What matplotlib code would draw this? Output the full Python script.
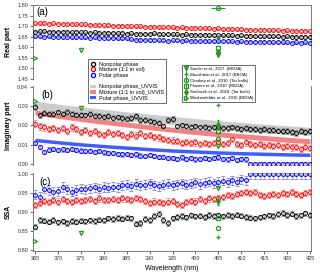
import numpy as np
import matplotlib
matplotlib.use('Agg')
import matplotlib.pyplot as plt
from matplotlib.lines import Line2D
from matplotlib.patches import Patch

plt.rcParams['font.family'] = ['Liberation Sans', 'DejaVu Sans']

wl = list(range(365, 426))

# real part
n_nonpolar = [1.674, 1.676, 1.675, 1.674, 1.673, 1.674, 1.672, 1.673, 1.671, 1.672, 1.670,
              1.671, 1.669, 1.670, 1.668, 1.669, 1.667, 1.668, 1.666, 1.667, 1.665,
              1.666, 1.664, 1.665, 1.663, 1.664, 1.666, 1.663, 1.662, 1.663, 1.661,
              1.662, 1.660, 1.661, 1.659, 1.660, 1.658, 1.659, 1.657, 1.658, 1.656,
              1.657, 1.656, 1.657, 1.655, 1.656, 1.654, 1.655, 1.653, 1.654, 1.652,
              1.653, 1.652, 1.653, 1.651, 1.652, 1.650, 1.651, 1.649, 1.650, 1.649]
n_mixture = [1.714, 1.713, 1.715, 1.712, 1.713, 1.711, 1.712, 1.710, 1.711, 1.709, 1.708,
             1.708, 1.706, 1.707, 1.705, 1.704, 1.705, 1.703, 1.702, 1.703, 1.701,
             1.700, 1.699, 1.700, 1.698, 1.697, 1.698, 1.696, 1.695, 1.697, 1.694,
             1.693, 1.694, 1.692, 1.691, 1.692, 1.690, 1.689, 1.690, 1.688, 1.689,
             1.687, 1.688, 1.686, 1.685, 1.686, 1.684, 1.683, 1.684, 1.682, 1.683,
             1.681, 1.682, 1.680, 1.679, 1.680, 1.678, 1.679, 1.677, 1.678, 1.676]
n_polar = [1.652, 1.653, 1.651, 1.652, 1.650, 1.651, 1.649, 1.650, 1.648, 1.649, 1.647,
           1.648, 1.646, 1.647, 1.645, 1.646, 1.644, 1.645, 1.643, 1.644, 1.642,
           1.638, 1.636, 1.635, 1.636, 1.634, 1.635, 1.633, 1.634, 1.632, 1.633,
           1.634, 1.632, 1.633, 1.631, 1.632, 1.630, 1.631, 1.629, 1.630, 1.629,
           1.630, 1.628, 1.629, 1.627, 1.628, 1.626, 1.627, 1.625, 1.626, 1.625,
           1.626, 1.624, 1.625, 1.623, 1.624, 1.622, 1.623, 1.622, 1.623, 1.621]

# imaginary part
k_nonpolar = [0.0295, 0.0255, 0.0265, 0.0262, 0.0258, 0.0268, 0.0262, 0.0270, 0.0262, 0.0257, 0.0255,
              0.0252, 0.0258, 0.0248, 0.0250, 0.0245, 0.0248, 0.0240, 0.0242, 0.0238, 0.0236,
              0.0240, 0.0250, 0.0230, 0.0228, 0.0225, 0.0218, 0.0215, 0.0195, 0.0230, 0.0235,
              0.0195, 0.0200, 0.0196, 0.0192, 0.0195, 0.0190, 0.0193, 0.0188, 0.0190, 0.0192,
              0.0188, 0.0185, 0.0190, 0.0186, 0.0182, 0.0185, 0.0180, 0.0183, 0.0178, 0.0182,
              0.0176, 0.0178, 0.0174, 0.0172, 0.0170, 0.0168, 0.0162, 0.0170, 0.0165, 0.0172]
k_mixture = [0.0210, 0.0195, 0.0190, 0.0182, 0.0188, 0.0178, 0.0185, 0.0170, 0.0190, 0.0180, 0.0168,
             0.0178, 0.0160, 0.0172, 0.0158, 0.0150, 0.0165, 0.0155, 0.0160, 0.0150, 0.0140,
             0.0155, 0.0148, 0.0160, 0.0145, 0.0150, 0.0142, 0.0138, 0.0130, 0.0125, 0.0122,
             0.0118, 0.0110, 0.0116, 0.0108, 0.0112, 0.0106, 0.0110, 0.0104, 0.0108, 0.0112,
             0.0104, 0.0108, 0.0128, 0.0106, 0.0100, 0.0112, 0.0104, 0.0098, 0.0102, 0.0096,
             0.0100, 0.0092, 0.0098, 0.0088, 0.0094, 0.0086, 0.0090, 0.0080, 0.0088, 0.0085]
k_polar = [0.0110, 0.0088, 0.0062, 0.0075, 0.0078, 0.0072, 0.0076, 0.0074, 0.0078, 0.0074, 0.0070,
           0.0068, 0.0066, 0.0062, 0.0066, 0.0060, 0.0056, 0.0058, 0.0054, 0.0050, 0.0052,
           0.0046, 0.0050, 0.0044, 0.0040, 0.0046, 0.0042, 0.0038, 0.0035, 0.0032, 0.0030,
           0.0028, 0.0034, 0.0026, 0.0030, 0.0024, 0.0028, 0.0032, 0.0026, 0.0030, 0.0034,
           0.0028, 0.0024, 0.0030, 0.0022, 0.0026, 0.0024, 0.0, 0.0, 0.0, 0.0,
           0.0, 0.0, 0.0, 0.0, 0.0, 0.0, 0.0, 0.0, 0.0, 0.0]

# UV-VIS retrieval bands (5 nm steps)
wl_uvvis = [365, 370, 375, 380, 385, 390, 395, 400, 405, 410, 415, 420, 425]
k_uvvis_nonpolar = [0.0305, 0.0290, 0.0276, 0.0263, 0.0250, 0.0238, 0.0226, 0.0215, 0.0205, 0.0195, 0.0186, 0.0178, 0.0170]
k_uvvis_mixture = [0.0268, 0.0250, 0.0234, 0.0219, 0.0205, 0.0191, 0.0178, 0.0166, 0.0155, 0.0145, 0.0135, 0.0126, 0.0118]
k_uvvis_polar = [0.0125, 0.0113, 0.0102, 0.0093, 0.0085, 0.0077, 0.0070, 0.0065, 0.0060, 0.0056, 0.0053, 0.0050, 0.0048]

# single scattering albedo
ssa_nonpolar = [0.862, 0.880, 0.878, 0.875, 0.880, 0.874, 0.876, 0.872, 0.877, 0.875, 0.878,
                0.876, 0.879, 0.877, 0.881, 0.879, 0.884, 0.882, 0.885, 0.883, 0.886,
                0.884, 0.870, 0.872, 0.882, 0.880, 0.890, 0.895, 0.880, 0.872, 0.884,
                0.888, 0.890, 0.887, 0.892, 0.889, 0.891, 0.888, 0.893, 0.890, 0.892,
                0.889, 0.893, 0.890, 0.894, 0.891, 0.888, 0.886, 0.884, 0.887, 0.889,
                0.892, 0.890, 0.895, 0.898, 0.893, 0.896, 0.890, 0.892, 0.897, 0.893]
ssa_mixture = [0.920, 0.925, 0.930, 0.926, 0.932, 0.928, 0.935, 0.930, 0.927, 0.933, 0.929,
               0.931, 0.934, 0.930, 0.936, 0.933, 0.931, 0.935, 0.932, 0.936, 0.934,
               0.932, 0.937, 0.934, 0.930, 0.924, 0.928, 0.926, 0.924, 0.928, 0.930,
               0.922, 0.920, 0.926, 0.930, 0.928, 0.934, 0.930, 0.936, 0.934, 0.938,
               0.940, 0.944, 0.942, 0.948, 0.950, 0.953, 0.950, 0.952, 0.946, 0.943,
               0.944, 0.948, 0.945, 0.950, 0.947, 0.952, 0.948, 0.946, 0.950, 0.954]
ssa_polar = [0.946, 0.940, 0.962, 0.958, 0.953, 0.955, 0.966, 0.960, 0.954, 0.958, 0.962,
             0.960, 0.963, 0.965, 0.962, 0.966, 0.964, 0.967, 0.965, 0.970, 0.972,
             0.968, 0.974, 0.970, 0.972, 0.976, 0.970, 0.968, 0.972, 0.975, 0.970,
             0.973, 0.976, 0.972, 0.975, 0.978, 0.974, 0.977, 0.980, 0.976, 0.979,
             0.982, 0.978, 0.984, 0.980, 0.986, 0.983, 1.0, 1.0, 1.0, 1.0,
             1.0, 1.0, 1.0, 1.0, 1.0, 1.0, 1.0, 1.0, 1.0, 1.0]

# literature values
lit_labels = ['Sumlin et al., 2017  (BBOA)', 'Bluvshtein et al., 2017 (BBOA)',
              'Charkey et al., 2010  (Tar balls)', 'Flowers et al., 2010  (BBOA)',
              'Sedlacek et al., 2018  (Tar balls)', 'Washenfelder et al., 2015 (BBOA)']
lit_wl = [[375, 405], [405], [405], [405], [405], [365]]
lit_n = [[1.589, 1.563], [1.645], [1.785], [1.595], [1.578], [1.551]]
lit_k = [[0.0290, 0.0095], [0.0308], [0.0130], [0.0170], [0.0205], [0.0325]]
lit_ssa = [[0.845, 0.963], [0.835], [0.858], [0.885], [0.930], [0.826]]
lit_markers = ['v', '+', 'o', 's', 'd', '>']

colors = ['black', 'red', 'blue']
ecolors = ['#9a9a9a', '#f29090', '#8c8cff']
band_colors = ['#cccccc', '#f08484', '#3f5cff']
green = '#1f9a1f'

fig = plt.figure(figsize=(3.2, 2.76), dpi=100)
ax_a = fig.add_axes([0.1031, 0.7138, 0.8688, 0.268])
ax_b = fig.add_axes([0.1031, 0.4022, 0.8688, 0.2862])
ax_c = fig.add_axes([0.1031, 0.0906, 0.8688, 0.2826])

ms = 2.8
mew = 0.7
for i, (n, k, s) in enumerate([(n_nonpolar, k_nonpolar, ssa_nonpolar),
                               (n_mixture, k_mixture, ssa_mixture),
                               (n_polar, k_polar, ssa_polar)]):
    ax_a.errorbar(wl, n, yerr=0.003, fmt='o', mfc='none', mec=colors[i], ms=ms, mew=mew,
                  ecolor=ecolors[i], elinewidth=0.5, capsize=1, capthick=0.5, zorder=3)
    ax_b.errorbar(wl, k, yerr=[0.0015, 0.0016, 0.0011][i], fmt='o', mfc='none', mec=colors[i],
                  ms=ms, mew=mew, ecolor=ecolors[i], elinewidth=0.5, capsize=1.3, capthick=0.5, zorder=3)
    ax_c.errorbar(wl, s, yerr=[0.007, 0.008, 0.012][i], fmt='o', mfc='none', mec=colors[i],
                  ms=ms, mew=mew, ecolor=ecolors[i], elinewidth=0.5, capsize=1.3, capthick=0.5, zorder=3)

for band, hw, c in [(k_uvvis_nonpolar, 0.0021, band_colors[0]),
                    (k_uvvis_mixture, 0.0013, band_colors[1]),
                    (k_uvvis_polar, 0.0009, band_colors[2])]:
    b = np.array(band)
    ax_b.fill_between(wl_uvvis, b - hw, b + hw, color=c, lw=0, zorder=2)

lit_handles = []
for j in range(len(lit_labels)):
    m = lit_markers[j]
    kw = dict(color=green, marker=m, ls='none', ms=3, mew=0.9, zorder=4)
    if m in ['v', '>', 'o', 's']:
        kw['mfc'] = 'none'
    ax_a.plot(lit_wl[j], lit_n[j], **kw)
    ax_b.plot(lit_wl[j], lit_k[j], **kw)
    ax_c.plot(lit_wl[j], lit_ssa[j], **kw)
    if m == 'o':
        ax_a.errorbar(lit_wl[j], lit_n[j], xerr=1.5, fmt='none', ecolor=green, elinewidth=0.8)
    if m == 'd':
        ax_c.errorbar(lit_wl[j], lit_ssa[j], yerr=0.012, fmt='none', ecolor=green, elinewidth=0.8, capsize=1)
        ax_b.errorbar(lit_wl[j], lit_k[j], yerr=0.0025, fmt='none', ecolor=green, elinewidth=0.8, capsize=1)
    bar = Line2D([], [], color=green, marker='|', ls='none', ms=4.5, mew=0.8)
    lit_handles.append((bar, Line2D([], [], **kw)))

for ax in [ax_a, ax_b, ax_c]:
    ax.set_xlim(364.56, 425.22)
    ax.set_xticks(range(365, 426, 5))
    ax.tick_params(labelsize=4, length=2, width=0.5, colors='#333333', pad=1.5)
    for sp in ax.spines.values():
        sp.set_color('#666666')
        sp.set_linewidth(0.6)

ax_a.set_ylim(1.45, 1.80)
ax_a.set_yticks(np.arange(1.45, 1.801, 0.05))
ax_a.yaxis.set_major_formatter('{x:.2f}')
ax_a.spines['bottom'].set_visible(False)
ax_a.tick_params(axis='x', bottom=False, labelbottom=False)
ax_a.set_ylabel('Real part', fontsize=5, fontweight='bold', labelpad=4)

ax_b.set_ylim(-0.0005, 0.0405)
ax_b.set_yticks([0.00, 0.01, 0.02, 0.03, 0.04])
ax_b.yaxis.set_major_formatter('{x:.2f}')
ax_b.spines['bottom'].set_visible(False)
ax_b.spines['top'].set_visible(False)
ax_b.tick_params(axis='x', bottom=False, labelbottom=False)
ax_b.set_ylabel('Imaginary part', fontsize=5, fontweight='bold', labelpad=4)

ax_c.set_ylim(0.7987, 1.0026)
ax_c.set_yticks([0.80, 0.85, 0.90, 0.95, 1.00])
ax_c.yaxis.set_major_formatter('{x:.2f}')
ax_c.spines['top'].set_visible(False)
ax_c.set_ylabel('SSA', fontsize=5, fontweight='bold', labelpad=4)
ax_c.set_xlabel('Wavelength (nm)', fontsize=5, labelpad=3)

fig.add_artist(Line2D([0.9719, 0.9719], [0.3732, 0.4022], transform=fig.transFigure,
                      color='#666666', lw=0.6))

ax_a.text(0.012, 0.97, '(a)', transform=ax_a.transAxes, fontsize=7, va='top')
ax_b.text(0.03, 0.95, '(b)', transform=ax_b.transAxes, fontsize=7, va='top')
ax_c.text(0.022, 0.95, '(c)', transform=ax_c.transAxes, fontsize=7, va='top')

names = ['Nonpolar phase', 'Mixture (1:1 in vol)', 'Polar phase']
h1 = [Line2D([], [], marker='o', mfc='none', mec=c, ls='none', ms=3, mew=0.9) for c in colors]
h1.append(Line2D([], [], ls='none'))
h1 += [Patch(facecolor=c, edgecolor='none') for c in band_colors]
l1 = names + [' '] + [nm + '_UVVIS' for nm in names]
leg1 = fig.legend(h1, l1, loc='upper left', bbox_to_anchor=(0.266, 0.795), fontsize=4,
                  frameon=True, fancybox=False, edgecolor='#555555', framealpha=1,
                  labelspacing=0.12, handlelength=1.0, handletextpad=0.6, borderpad=0.4,
                  handleheight=0.6)
leg1.get_frame().set_linewidth(0.6)

leg2 = fig.legend(lit_handles, lit_labels, loc='upper left', bbox_to_anchor=(0.5625, 0.772),
                  fontsize=3.1, frameon=True, fancybox=False, edgecolor='#555555', framealpha=1,
                  labelspacing=0.45, handlelength=1.0, handletextpad=0.5, borderpad=0.35)
leg2.get_frame().set_linewidth(0.6)

fig.savefig('out.png', dpi=100)
